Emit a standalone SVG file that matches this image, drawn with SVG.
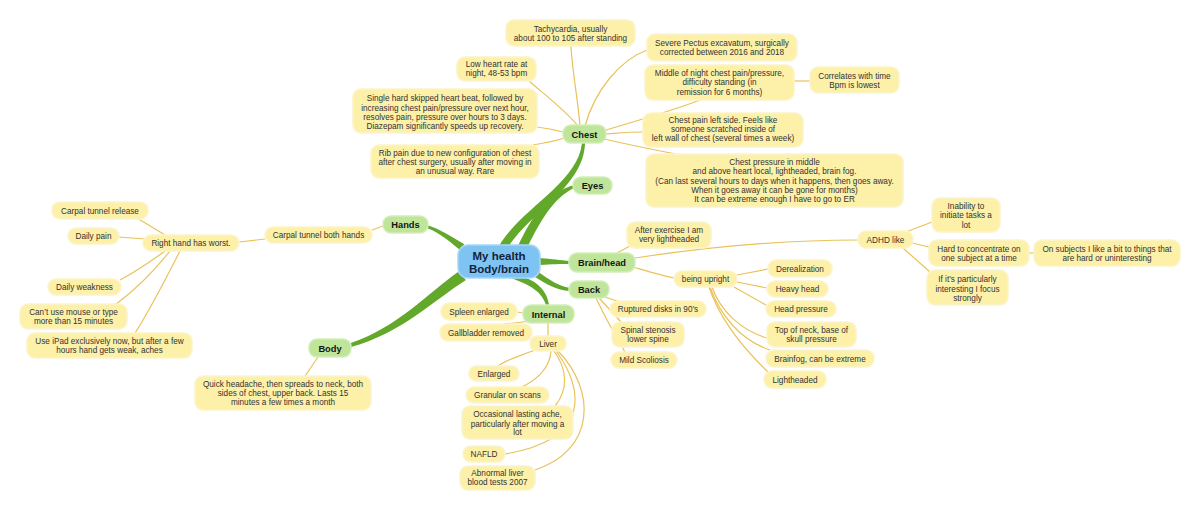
<svg xmlns="http://www.w3.org/2000/svg" width="1200" height="511" viewBox="0 0 1200 511">
<style>
.y{fill:#fdf0a8;stroke:#fcf4cc;stroke-width:1.5}
.g{fill:#bfe59b;stroke:#d3eebb;stroke-width:1.5}
.m{fill:#7ec3f2;stroke:#a8d7f7;stroke-width:1.5}
.t{font-family:"Liberation Sans",Arial,sans-serif;font-size:8.2px;fill:#333;text-anchor:middle}
.tb{font-family:"Liberation Sans",Arial,sans-serif;font-size:9.3px;font-weight:bold;fill:#151515;text-anchor:middle}
.tm{font-family:"Liberation Sans",Arial,sans-serif;font-size:11.5px;font-weight:bold;fill:#14223c;text-anchor:middle}
.c{fill:none;stroke:#e9c25a;stroke-width:1.2}
.b{fill:#62a82a;stroke:none}
</style>
<rect width="1200" height="511" fill="#ffffff"/>
<g id="connectors">
<!-- green branches -->
<path class="b" d="M499,246 C521,208 578,183 582,143 L585,143 C584,186 531,212 509,246 Z"/>
<path class="b" d="M518,246 C531,218 548,192 574,185 L574,188 C553,198 540,222 528,246 Z"/>
<path class="b" d="M464,244 C450,236 440,229 427,225 L427,228 C440,233 452,243 462,252 Z"/>
<path class="b" d="M540,258 C552,259 560,260 570,261 L570,264 C560,264 552,264 540,265 Z"/>
<path class="b" d="M537,271 C550,280 558,286 570,288 L570,291 C556,290 546,284 535,277 Z"/>
<path class="b" d="M508,277 C525,283 541,289 546,305 L549,305 C547,287 531,278 518,276 Z"/>
<path class="b" d="M458,272 C428,293 398,327 351,343 L351,347 C402,333 434,300 466,280 Z"/>
<!-- chest -->
<path class="c" d="M580,126 C578,100 572,70 571,46"/>
<path class="c" d="M578,126 C565,110 545,95 529,81"/>
<path class="c" d="M585,126 C595,90 620,60 647,50"/>
<path class="c" d="M563,132 C555,130 545,128 537,127"/>
<path class="c" d="M565,138 C555,141 545,143 533,145"/>
<path class="c" d="M606,130 C640,120 680,108 700,100"/>
<path class="c" d="M606,134 C620,133 630,132 643,132"/>
<path class="c" d="M604,139 C630,145 655,150 676,154"/>
<path class="c" d="M794,81 L810,81"/>
<!-- hands -->
<path class="c" d="M383,226 L372,230"/>
<path class="c" d="M265,239 L239,242"/>
<path class="c" d="M165,235 L137,218"/>
<path class="c" d="M145,239 L119,237"/>
<path class="c" d="M165,251 C150,262 135,272 120,280"/>
<path class="c" d="M170,251 C155,270 135,290 115,305"/>
<path class="c" d="M180,251 C165,280 150,310 135,333"/>
<!-- body -->
<path class="c" d="M318,357 L305,376"/>
<!-- internal -->
<path class="c" d="M523,313 L517,312"/>
<path class="c" d="M528,321 C520,323 512,323 503,324"/>
<path class="c" d="M548,323 L548,336"/>
<path class="c" d="M535,350 C520,356 505,360 498,366"/>
<path class="c" d="M551,351 C550,365 540,378 522,387"/>
<path class="c" d="M554,351 C568,370 568,390 555,406"/>
<path class="c" d="M556,351 C585,390 590,440 505,454"/>
<path class="c" d="M558,351 C596,390 596,450 535,470"/>
<!-- brain/head -->
<path class="c" d="M617,253 L630,246"/>
<path class="c" d="M635,258 C700,248 780,240 858,240"/>
<path class="c" d="M633,267 C650,272 663,276 674,278"/>
<path class="c" d="M737,275 L768,269"/>
<path class="c" d="M737,282 L767,288"/>
<path class="c" d="M734,287 L766,305"/>
<path class="c" d="M712,287 C720,310 740,330 767,338"/>
<path class="c" d="M710,287 C720,315 740,340 770,350"/>
<path class="c" d="M709,287 C720,320 745,350 768,372"/>
<path class="c" d="M906,232 L932,222"/>
<path class="c" d="M912,243 L929,247"/>
<path class="c" d="M903,248 L930,272"/>
<path class="c" d="M1029,253 L1034,253"/>
<!-- back -->
<path class="c" d="M602,296 L620,302"/>
<path class="c" d="M599,298 L622,323"/>
<path class="c" d="M596,298 C604,315 615,335 625,352"/>
</g>

<g id="center"><rect class="m" x="458" y="245" width="82" height="33" rx="10"/><text class="tm" x="499" y="259.5">My health</text><text class="tm" x="499" y="273">Body/brain</text></g>

<g id="chest"><rect class="g" x="563" y="125" width="43" height="18" rx="8"/><text class="tb" x="584.5" y="137.5">Chest</text></g>
<g id="eyes"><rect class="g" x="573" y="177" width="39" height="17" rx="8"/><text class="tb" x="592.5" y="189">Eyes</text></g>
<g id="brainhead"><rect class="g" x="569" y="253" width="66" height="19" rx="8"/><text class="tb" x="602" y="266">Brain/head</text></g>
<g id="back"><rect class="g" x="569" y="281" width="40" height="17" rx="8"/><text class="tb" x="589" y="293">Back</text></g>
<g id="hands"><rect class="g" x="383" y="216" width="45" height="17" rx="8"/><text class="tb" x="405.5" y="228">Hands</text></g>
<g id="internal"><rect class="g" x="523" y="305" width="51" height="18" rx="8"/><text class="tb" x="548.5" y="317.5">Internal</text></g>
<g id="body"><rect class="g" x="309" y="339" width="42" height="18" rx="8"/><text class="tb" x="330" y="351.5">Body</text></g>

<g id="tachycardia"><rect class="y" x="506" y="20" width="129" height="26" rx="8"/><text class="t" x="570.5" y="32">Tachycardia, usually</text><text class="t" x="570.5" y="41">about 100 to 105 after standing</text></g>
<g id="lowhr"><rect class="y" x="457" y="57" width="79" height="24" rx="8"/><text class="t" x="496.5" y="67">Low heart rate at</text><text class="t" x="496.5" y="76">night, 48-53 bpm</text></g>
<g id="skipped"><rect class="y" x="353" y="89" width="184" height="44" rx="8"/><text class="t" x="445" y="101">Single hard skipped heart beat, followed by</text><text class="t" x="445" y="110.5">increasing chest pain/pressure over next hour,</text><text class="t" x="445" y="120">resolves pain, pressure over hours to 3 days.</text><text class="t" x="445" y="129">Diazepam significantly speeds up recovery.</text></g>
<g id="ribpain"><rect class="y" x="371" y="145" width="168" height="33" rx="8"/><text class="t" x="455" y="156">Rib pain due to new configuration of chest</text><text class="t" x="455" y="165">after chest surgery, usually after moving in</text><text class="t" x="455" y="174">an unusual way. Rare</text></g>
<g id="pectus"><rect class="y" x="647" y="34" width="150" height="27" rx="8"/><text class="t" x="722" y="46">Severe Pectus excavatum, surgically</text><text class="t" x="722" y="55">corrected between 2016 and 2018</text></g>
<g id="midnight"><rect class="y" x="645" y="65" width="149" height="35" rx="8"/><text class="t" x="719.5" y="76">Middle of night chest pain/pressure,</text><text class="t" x="719.5" y="85">difficulty standing (in</text><text class="t" x="719.5" y="94.5">remission for 6 months)</text></g>
<g id="correlates"><rect class="y" x="810" y="67" width="89" height="26" rx="8"/><text class="t" x="854.5" y="79">Correlates with time</text><text class="t" x="854.5" y="87.5">Bpm is lowest</text></g>
<g id="leftside"><rect class="y" x="643" y="113" width="160" height="34" rx="8"/><text class="t" x="723" y="123">Chest pain left side. Feels like</text><text class="t" x="723" y="132">someone scratched inside of</text><text class="t" x="723" y="141">left wall of chest (several times a week)</text></g>
<g id="pressure"><rect class="y" x="646" y="154" width="257" height="53" rx="8"/><text class="t" x="774.5" y="165">Chest pressure in middle</text><text class="t" x="774.5" y="174">and above heart local, lightheaded, brain fog.</text><text class="t" x="774.5" y="184">(Can last several hours to days when it happens, then goes away.</text><text class="t" x="774.5" y="193">When it goes away it can be gone for months)</text><text class="t" x="774.5" y="202">It can be extreme enough I have to go to ER</text></g>

<g id="afterexercise"><rect class="y" x="627" y="222" width="84" height="26" rx="8"/><text class="t" x="669" y="233">After exercise I am</text><text class="t" x="669" y="242">very lightheaded</text></g>
<g id="adhd"><rect class="y" x="858" y="231" width="55" height="17" rx="8"/><text class="t" x="885.5" y="243">ADHD like</text></g>
<g id="inability"><rect class="y" x="932" y="198" width="68" height="34" rx="8"/><text class="t" x="966" y="209">Inability to</text><text class="t" x="966" y="218">initiate tasks a</text><text class="t" x="966" y="228">lot</text></g>
<g id="concentrate"><rect class="y" x="929" y="240" width="100" height="26" rx="8"/><text class="t" x="979" y="252">Hard to concentrate on</text><text class="t" x="979" y="261">one subject at a time</text></g>
<g id="subjects"><rect class="y" x="1034" y="240" width="146" height="26" rx="8"/><text class="t" x="1107" y="252">On subjects I like a bit to things that</text><text class="t" x="1107" y="261">are hard or uninteresting</text></g>
<g id="interesting"><rect class="y" x="927" y="270" width="81" height="35" rx="8"/><text class="t" x="967.5" y="282">If it's particularly</text><text class="t" x="967.5" y="292">interesting I focus</text><text class="t" x="967.5" y="301">strongly</text></g>
<g id="upright"><rect class="y" x="674" y="271" width="63" height="16" rx="8"/><text class="t" x="705.5" y="282">being upright</text></g>
<g id="derealization"><rect class="y" x="768" y="260" width="64" height="17" rx="8"/><text class="t" x="800" y="271.5">Derealization</text></g>
<g id="heavyhead"><rect class="y" x="767" y="281" width="61" height="16" rx="8"/><text class="t" x="797.5" y="292">Heavy head</text></g>
<g id="headpressure"><rect class="y" x="766" y="301" width="70" height="16" rx="8"/><text class="t" x="801" y="312">Head pressure</text></g>
<g id="topneck"><rect class="y" x="767" y="322" width="89" height="25" rx="8"/><text class="t" x="811.5" y="333">Top of neck, base of</text><text class="t" x="811.5" y="342">skull pressure</text></g>
<g id="brainfog"><rect class="y" x="766" y="350" width="108" height="17" rx="8"/><text class="t" x="820" y="361.5">Brainfog, can be extreme</text></g>
<g id="lightheaded"><rect class="y" x="764" y="371" width="62" height="17" rx="8"/><text class="t" x="795" y="382.5">Lightheaded</text></g>

<g id="ruptured"><rect class="y" x="610" y="301" width="96" height="16" rx="8"/><text class="t" x="658" y="312">Ruptured disks in 90’s</text></g>
<g id="stenosis"><rect class="y" x="612" y="322" width="72" height="25" rx="8"/><text class="t" x="648" y="333">Spinal stenosis</text><text class="t" x="648" y="342">lower spine</text></g>
<g id="scoliosis"><rect class="y" x="611" y="352" width="66" height="16" rx="8"/><text class="t" x="644" y="363">Mild Scoliosis</text></g>

<g id="spleen"><rect class="y" x="441" y="303" width="76" height="17" rx="8"/><text class="t" x="479" y="314.5">Spleen enlarged</text></g>
<g id="gallbladder"><rect class="y" x="440" y="324" width="92" height="17" rx="8"/><text class="t" x="486" y="335.5">Gallbladder removed</text></g>
<g id="liver"><rect class="y" x="530" y="336" width="36" height="15" rx="7"/><text class="t" x="548" y="346.5">Liver</text></g>
<g id="enlarged"><rect class="y" x="469" y="366" width="50" height="15" rx="7"/><text class="t" x="494" y="376.5">Enlarged</text></g>
<g id="granular"><rect class="y" x="466" y="387" width="83" height="16" rx="8"/><text class="t" x="507.5" y="398">Granular on scans</text></g>
<g id="occasional"><rect class="y" x="462" y="406" width="111" height="33" rx="8"/><text class="t" x="517.5" y="417">Occasional lasting ache,</text><text class="t" x="517.5" y="426.5">particularly after moving a</text><text class="t" x="517.5" y="435">lot</text></g>
<g id="nafld"><rect class="y" x="463" y="446" width="42" height="16" rx="8"/><text class="t" x="484" y="457">NAFLD</text></g>
<g id="abnormal"><rect class="y" x="460" y="466" width="75" height="24" rx="8"/><text class="t" x="497.5" y="476">Abnormal liver</text><text class="t" x="497.5" y="485">blood tests 2007</text></g>

<g id="carpalrelease"><rect class="y" x="52" y="202" width="96" height="17" rx="8"/><text class="t" x="100" y="213.5">Carpal tunnel release</text></g>
<g id="dailypain"><rect class="y" x="68" y="228" width="51" height="16" rx="8"/><text class="t" x="93.5" y="239">Daily pain</text></g>
<g id="righthand"><rect class="y" x="143" y="235" width="96" height="16" rx="8"/><text class="t" x="191" y="246">Right hand has worst.</text></g>
<g id="carpalboth"><rect class="y" x="265" y="227" width="107" height="16" rx="8"/><text class="t" x="318.5" y="238">Carpal tunnel both hands</text></g>
<g id="weakness"><rect class="y" x="48" y="279" width="73" height="16" rx="8"/><text class="t" x="84.5" y="290">Daily weakness</text></g>
<g id="mouse"><rect class="y" x="20" y="304" width="107" height="25" rx="8"/><text class="t" x="73.5" y="315">Can’t use mouse or type</text><text class="t" x="73.5" y="324">more than 15 minutes</text></g>
<g id="ipad"><rect class="y" x="27" y="333" width="165" height="25" rx="8"/><text class="t" x="109.5" y="344">Use iPad exclusively now, but after a few</text><text class="t" x="109.5" y="353">hours hand gets weak, aches</text></g>
<g id="headache"><rect class="y" x="195" y="376" width="176" height="34" rx="8"/><text class="t" x="283" y="386.5">Quick headache, then spreads to neck, both</text><text class="t" x="283" y="395.5">sides of chest, upper back. Lasts 15</text><text class="t" x="283" y="404.5">minutes a few times a month</text></g>
</svg>
